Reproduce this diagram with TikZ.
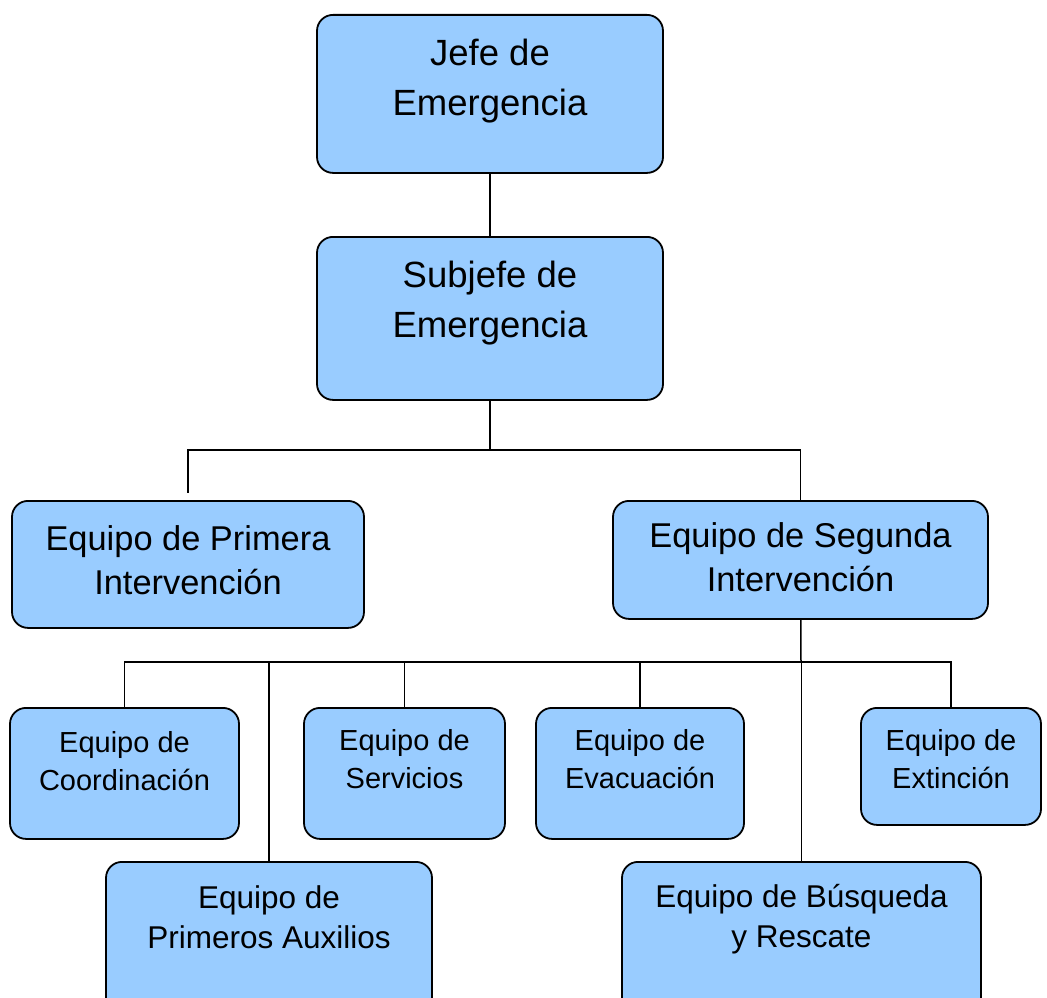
\documentclass[tikz,border=0pt]{standalone}
\usepackage{fontspec}
\setmainfont{Liberation Sans}
\definecolor{OrgFill}{HTML}{99CCFF}
\definecolor{OrgLine}{HTML}{000000}
\definecolor{OrgText}{HTML}{000000}
\tikzset{
  org chief/.style={
    draw=OrgLine,
    fill=OrgFill,
    text=OrgText,
    rounded corners=16pt,
    align=center,
    anchor=north,
    inner sep=0pt,
    line width=1.8pt,
    font=\fontsize{36.5}{50}\selectfont
  },
  org team/.style={
    draw=OrgLine,
    fill=OrgFill,
    text=OrgText,
    rounded corners=16pt,
    align=center,
    anchor=north,
    inner sep=0pt,
    line width=1.8pt,
    font=\fontsize{34.4}{44}\selectfont
  },
  org unit/.style={
    draw=OrgLine,
    fill=OrgFill,
    text=OrgText,
    rounded corners=16pt,
    align=center,
    anchor=north,
    inner sep=0pt,
    line width=1.8pt,
    font=\fontsize{29}{38}\selectfont
  },
  org unit wide/.style={
    draw=OrgLine,
    fill=OrgFill,
    text=OrgText,
    rounded corners=16pt,
    align=center,
    anchor=north,
    inner sep=0pt,
    line width=1.8pt,
    font=\fontsize{31.5}{40}\selectfont
  },
  org link/.style={draw=OrgLine,line width=1.5pt}
}

\begin{document}
\begin{tikzpicture}[x=1pt,y=-1pt]
  \useasboundingbox (0,0) rectangle (1047,998);
  \clip (0,0) rectangle (1047,998);

  \node[org chief,minimum width=346pt,text height=101pt,text depth=57pt] (jefe) at (490,14) {Jefe de\\Emergencia};
  \node[org chief,minimum width=346pt,text height=101pt,text depth=62pt] (subjefe) at (490,236) {Subjefe de\\Emergencia};
  \node[org team,minimum width=352pt,text height=94pt,text depth=33pt] (primera) at (188,500) {Equipo de Primera\\Intervención};
  \node[org team,minimum width=375pt,text height=91pt,text depth=27pt] (segunda) at (800.5,500) {Equipo de Segunda\\Intervención};
  \node[org unit,minimum width=229pt,text height=83pt,text depth=48pt] (coord) at (124.5,707) {Equipo de\\Coordinación};
  \node[org unit,minimum width=201pt,text height=81pt,text depth=50pt] (servicios) at (404.5,707) {Equipo de\\Servicios};
  \node[org unit,minimum width=208pt,text height=81pt,text depth=50pt] (evacuacion) at (640,707) {Equipo de\\Evacuación};
  \node[org unit,minimum width=180pt,text height=81pt,text depth=36pt] (extincion) at (951,707) {Equipo de\\Extinción};
  \node[org unit wide,minimum width=326pt,text height=87pt,text depth=72pt] (auxilios) at (269,861) {Equipo de\\Primeros Auxilios};
  \node[org unit wide,minimum width=359pt,text height=86pt,text depth=73pt] (busqueda) at (801.5,861) {Equipo de Búsqueda\\y Rescate};

  \coordinate (upper bus) at (490,450);
  \coordinate (lower bus) at (801,662);

  \draw[org link] (jefe) -- (subjefe);
  \draw[org link] (subjefe) -- (upper bus);
  \draw[org link,shorten >=7pt] (upper bus) -| (primera);
  \draw[org link] (upper bus) -| (segunda);
  \draw[org link] (segunda) -- (lower bus);
  \foreach \team in {coord,auxilios,servicios,evacuacion,busqueda,extincion}
    \draw[org link] (lower bus) -| (\team);
\end{tikzpicture}
\end{document}
